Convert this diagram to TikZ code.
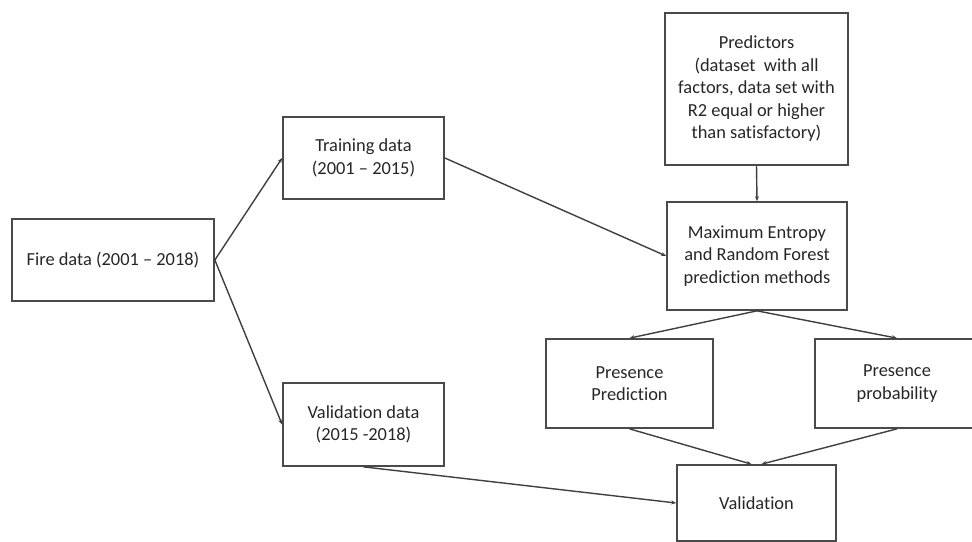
\documentclass[tikz,border=0pt]{standalone}
\usepackage{fontspec}
\setmainfont{Carlito}[Ligatures=NoCommon]
\usetikzlibrary{arrows.meta}
\definecolor{boxgray}{HTML}{4A4A4A}
\definecolor{txtgray}{HTML}{262626}
\begin{document}
\begin{tikzpicture}[x=1pt, y=-1pt,
    every node/.style={font=\fontsize{18.4}{22.5}\selectfont, text=txtgray, align=center},
    box/.style={draw=boxgray, line width=1.7pt, inner sep=0pt},
    arr/.style={draw=boxgray!85!black, line width=1.4pt, -{Stealth[length=5pt,width=4pt]}}]
    \useasboundingbox (0,0) rectangle (972,541);
    \clip (0,0) rectangle (972,541);
    \node[box, minimum width=202pt, minimum height=82pt] (fire) at (113,260) {Fire data (2001 -- 2018)};
    \node[box, minimum width=161pt, minimum height=82pt] (train) at (363.5,158) {Training data\\(2001 -- 2015)};
    \node[box, minimum width=161pt, minimum height=83pt] (valdata) at (363.5,424.5) {Validation data\\(2015 -2018)};
    \node[box, minimum width=183pt, minimum height=152pt] (pred) at (756.5,89) {Predictors\\(dataset\ \ with all\\factors, data set with\\R2 equal or higher\\than satisfactory)};
    \node[box, minimum width=180pt, minimum height=108pt] (maxent) at (757,256) {Maximum Entropy\\and Random Forest\\prediction methods};
    \node[box, minimum width=167pt, minimum height=89pt] (presp) at (629.5,383.5) {Presence\\Prediction};
    \node[box, minimum width=164pt, minimum height=89pt] (presprob) at (897,383.5) {Presence\\probability};
    \node[box, minimum width=159pt, minimum height=76pt] (valid) at (756.5,503) {Validation};

    \draw[arr] (fire.east) -- (train.west);
    \draw[arr] (fire.east) -- (valdata.west);
    \draw[arr] (train.east) -- (maxent.west);
    \draw[arr] (pred.south) -- (maxent.north);
    \draw[arr] (maxent.south) -- (presp.north);
    \draw[arr] (maxent.south) -- (presprob.north);
    \draw[arr] (presp.south) -- ([xshift=-5pt]valid.north);
    \draw[arr] (presprob.south) -- ([xshift=5pt]valid.north);
    \draw[arr] (valdata.south) -- (valid.west);
\end{tikzpicture}
\end{document}
